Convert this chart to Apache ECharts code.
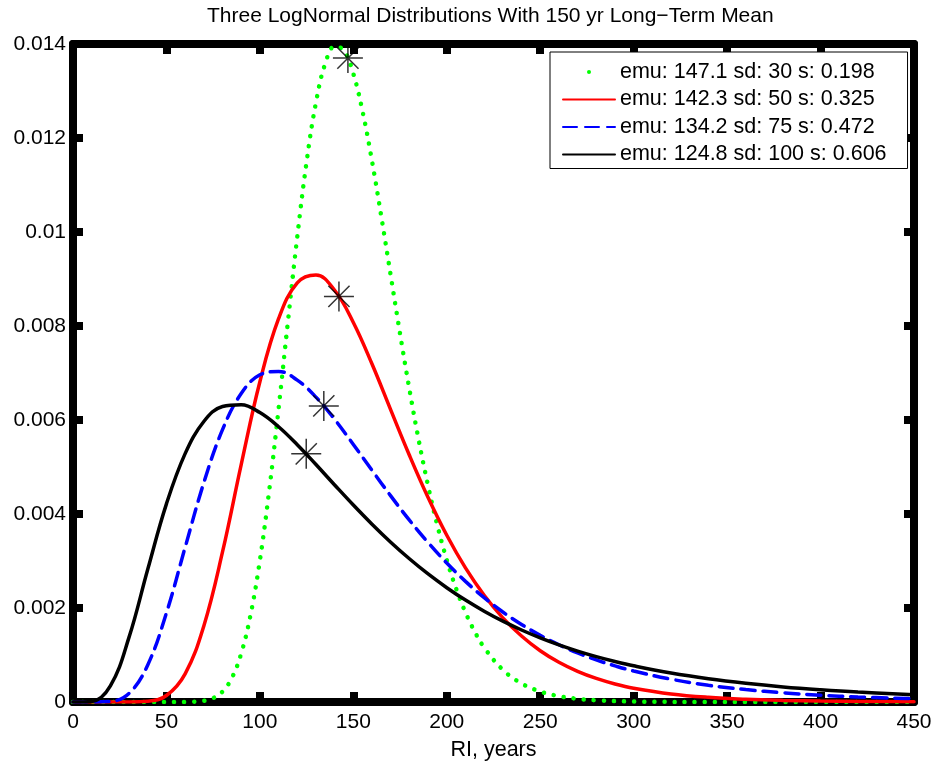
<!DOCTYPE html>
<html>
<head>
<meta charset="utf-8">
<title>Three LogNormal Distributions</title>
<script src="https://cdn.jsdelivr.net/npm/echarts@6/dist/echarts.min.js"></script>
<style>
  html, body { margin: 0; padding: 0; background: #fff; }
  #chart { width: 936px; height: 766px; }
</style>
</head>
<body>
<div id="chart"></div>
<script>
// values (pdf of each curve vs RI in years)
let names = [
  'emu: 147.1 sd: 30 s: 0.198',
  'emu: 142.3 sd: 50 s: 0.325',
  'emu: 134.2 sd: 75 s: 0.472',
  'emu: 124.8 sd: 100 s: 0.606'
];

let greenX = [0, 40, 60, 70, 75, 80, 85, 90, 95, 100,
  105, 110, 115, 120, 125, 130, 135, 140, 145, 150, 155, 160, 165, 170,
  175, 180, 185, 190, 195, 200, 205, 210, 215, 220,
  230, 240, 250, 260, 270, 280, 300, 350, 450];
let greenY = [0, 0, 0.000002, 0.000025, 0.000082, 0.000222, 0.000512, 0.001032, 0.001853, 0.003016,
  0.004506, 0.006239, 0.00809, 0.009897, 0.011496, 0.012756, 0.013588, 0.013949, 0.01386, 0.013368,
  0.012553, 0.011508, 0.010322, 0.009075, 0.007836, 0.006656, 0.00557, 0.0046, 0.00375, 0.003023,
  0.002412, 0.001906, 0.001493, 0.00116,
  0.000685, 0.000395, 0.000223, 0.000124, 0.000068, 0.000037, 0.00001, 0, 0];

// shared x for the red, blue and black curves
let ri = [0, 10, 20, 30, 40, 50, 60, 70, 80, 90, 100, 110, 120, 130, 140, 150,
  160, 170, 180, 190, 200, 210, 220, 230, 240, 250, 260, 270, 280, 290, 300,
  320, 340, 360, 380, 400, 420, 450];
let redY = [0, 0, 0, 0.0000004, 0.000015, 0.000138, 0.000599, 0.001619, 0.003192, 0.005051,
  0.006813, 0.008155, 0.008917, 0.009084, 0.00876, 0.008076, 0.007191, 0.006216, 0.00525, 0.00435,
  0.003547, 0.002853, 0.002272, 0.001791, 0.001404, 0.001091, 0.000845, 0.000652, 0.000501, 0.000384,
  0.000294, 0.000171, 0.0000995, 0.0000578, 0.0000336, 0.0000195, 0.000012, 0.000005];
let blueY = [0, 0, 0.000012, 0.000183, 0.000789, 0.001896, 0.00329, 0.004667, 0.005795, 0.006563,
  0.006962, 0.007033, 0.006848, 0.006487, 0.006013, 0.00548, 0.004928, 0.004386, 0.003869, 0.003392,
  0.002957, 0.002566, 0.00222, 0.001915, 0.00165, 0.001418, 0.001218, 0.001045, 0.000896, 0.000769,
  0.000659, 0.000485, 0.000357, 0.000264, 0.000196, 0.000145, 0.000108, 0.00007];
let blackY = [0, 0.000011, 0.000343, 0.00138, 0.002824, 0.004215, 0.005285, 0.005968, 0.006288, 0.006325,
  0.006158, 0.005856, 0.005474, 0.005052, 0.004618, 0.004191, 0.003783, 0.0034, 0.003047, 0.002724,
  0.002432, 0.002168, 0.001932, 0.00172, 0.001532, 0.001365, 0.001216, 0.001084, 0.000966, 0.000862,
  0.00077, 0.000615, 0.000493, 0.000397, 0.00032, 0.00026, 0.000211, 0.000156];

// asterisks at each emu
let starX = [147.1, 142.3, 134.2, 124.8];
let starY = [0.0137, 0.00863, 0.0063, 0.00528];

function zip(xs, ys) {
  let out = [];
  for (let i = 0; i < xs.length; i++) {
    out.push([xs[i], ys[i]]);
  }
  return out;
}

let font = "'Liberation Sans', Arial, Helvetica, sans-serif";
let asterisk = 'path://M15,0L15,30M0,15L30,15M4.4,4.4L25.6,25.6M4.4,25.6L25.6,4.4';

let frameAxis = {
  axisLine: { show: true, onZero: false, lineStyle: { color: '#000', width: 8 } },
  axisTick: { show: true, inside: true, length: 10, lineStyle: { color: '#000', width: 8 } },
  splitLine: { show: false }
};

function curve(name, xs, ys, color, width, type) {
  return {
    name: name,
    type: 'line',
    data: zip(xs, ys),
    smooth: 0.4,
    smoothConstraint: false,
    symbol: 'none',
    itemStyle: { color: color },
    lineStyle: { color: color, width: width, type: type, cap: 'round' }
  };
}

let chart = echarts.init(document.getElementById('chart'));
let option = {
  animation: false,
  backgroundColor: '#fff',
  textStyle: { fontFamily: font },
  title: {
    text: 'Three LogNormal Distributions With 150 yr Long\u2212Term Mean',
    left: 207,
    top: 6,
    padding: 0,
    textStyle: { fontSize: 21, fontWeight: 'normal', color: '#000', fontFamily: font }
  },
  legend: {
    data: [
      { name: names[0], icon: 'circle' },
      { name: names[1], itemStyle: { opacity: 0 } },
      { name: names[2], itemStyle: { opacity: 0 } },
      { name: names[3], itemStyle: { opacity: 0 } }
    ],
    orient: 'vertical',
    left: 550,
    top: 52,
    padding: [9, 21, 3, 12],
    itemWidth: 52,
    itemHeight: 4,
    itemGap: 5.5,
    backgroundColor: '#fff',
    borderColor: '#000',
    borderWidth: 1,
    borderRadius: 0,
    selectedMode: false,
    textStyle: { fontSize: 21.5, lineHeight: 22, color: '#000', fontFamily: font }
  },
  grid: {
    left: 73,
    right: 22,
    top: 44,
    bottom: 58
  },
  xAxis: [
    Object.assign({}, frameAxis, {
      type: 'value',
      position: 'bottom',
      min: 0,
      max: 450,
      interval: 50,
      name: 'RI, years',
      nameLocation: 'middle',
      nameGap: 37,
      nameTextStyle: { fontSize: 21.5, color: '#000', fontFamily: font },
      axisLabel: { fontSize: 21, color: '#000', margin: 10, fontFamily: font }
    }),
    Object.assign({}, frameAxis, {
      type: 'value',
      position: 'top',
      min: 0,
      max: 450,
      interval: 50,
      axisLabel: { show: false }
    })
  ],
  yAxis: [
    Object.assign({}, frameAxis, {
      type: 'value',
      position: 'left',
      min: 0,
      max: 0.014,
      interval: 0.002,
      axisLabel: { fontSize: 21, color: '#000', margin: 7, fontFamily: font }
    }),
    Object.assign({}, frameAxis, {
      type: 'value',
      position: 'right',
      min: 0,
      max: 0.014,
      interval: 0.002,
      axisLabel: { show: false }
    })
  ],
  series: [
    curve(names[0], greenX, greenY, '#00ff00', 4.5, [0.1, 10]),
    curve(names[1], ri, redY, '#ff0000', 3.5, 'solid'),
    curve(names[2], ri, blueY, '#0000ff', 3.5, [14, 8]),
    curve(names[3], ri, blackY, '#000000', 3.5, 'solid'),
    {
      name: 'emu',
      type: 'scatter',
      data: zip(starX, starY),
      symbol: asterisk,
      symbolSize: 30,
      z: 5,
      itemStyle: { color: 'rgba(0,0,0,0)', borderColor: '#000', borderWidth: 1.5 }
    }
  ]
};
chart.setOption(option);
</script>
</body>
</html>
